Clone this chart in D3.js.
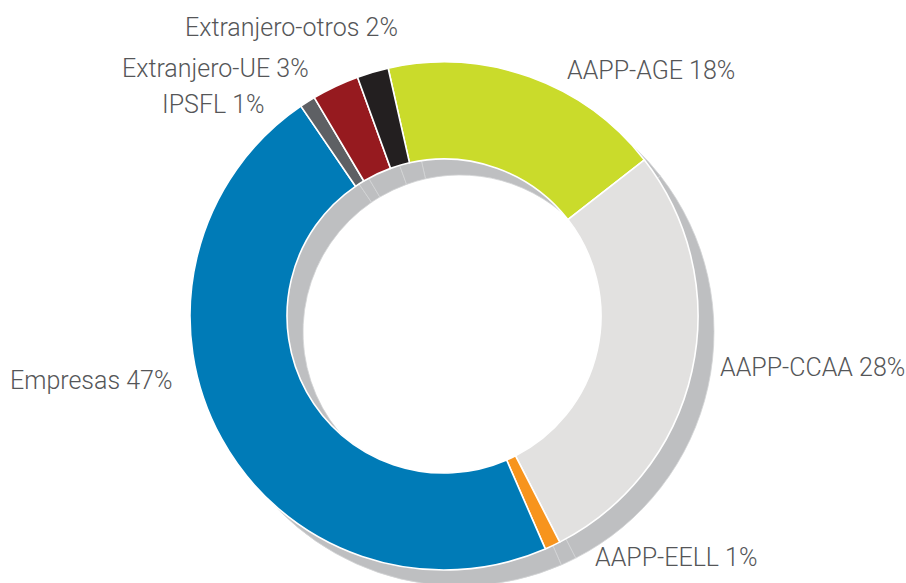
<!DOCTYPE html>
<html>
<head>
<meta charset="utf-8">
<script src="https://cdn.jsdelivr.net/npm/d3@7"></script>
<style>
  html, body { margin: 0; padding: 0; background: #ffffff; }
  svg { display: block; }
  .lbl { font-family: Roboto, "Open Sans", sans-serif; font-weight: 300; fill: #555658; }
</style>
</head>
<body>
<svg id="chart" width="906" height="583"></svg>
<script>
// Financing sources (share of total, %)
const sectors = ["AAPP-AGE", "AAPP-CCAA", "AAPP-EELL", "Empresas", "IPSFL", "Extranjero-UE", "Extranjero-otros"];
const shares  = [18, 28, 1, 47, 1, 3, 2];
const colors  = ["#cadb2b", "#e2e1e0", "#f7941d", "#007bb7", "#5e6064", "#961a1f", "#231f20"];

const width = 906, height = 583;
const cx = 444, cy = 316;
const outerR = 254, innerR = 157;
const shadowDx = 16, shadowDy = 16;

const svg = d3.select("#chart");

const data = sectors.map((s, i) => ({ name: s, value: shares[i], color: colors[i] }));

const startDeg = -12.7;
const pie = d3.pie()
  .value(d => d.value)
  .sort(null)
  .startAngle(startDeg * Math.PI / 180)
  .endAngle((startDeg + 360) * Math.PI / 180);

const arc = d3.arc().innerRadius(innerR).outerRadius(outerR);
const arcs = pie(data);

// drop shadow ring, offset down-right
svg.append("g")
  .attr("transform", `translate(${cx + shadowDx},${cy + shadowDy})`)
  .selectAll("path")
  .data(arcs)
  .join("path")
  .attr("d", arc)
  .attr("fill", "#bebfc1")
  .attr("stroke", "#d3d4d6")
  .attr("stroke-width", 0.8);

// donut slices
svg.append("g")
  .attr("transform", `translate(${cx},${cy})`)
  .selectAll("path")
  .data(arcs)
  .join("path")
  .attr("d", arc)
  .attr("fill", d => d.data.color)
  .attr("stroke", "#ffffff")
  .attr("stroke-width", 1.6)
  .attr("stroke-linejoin", "round");

// slice labels
const labelPos = {
  "AAPP-AGE":         { x: 567, y: 79,  anchor: "start" },
  "AAPP-CCAA":        { x: 720, y: 376, anchor: "start" },
  "AAPP-EELL":        { x: 595, y: 566, anchor: "start" },
  "Empresas":         { x: 10,  y: 389, anchor: "start" },
  "IPSFL":            { x: 162, y: 113, anchor: "start" },
  "Extranjero-UE":    { x: 122, y: 77,  anchor: "start" },
  "Extranjero-otros": { x: 185, y: 36,  anchor: "start" }
};

svg.append("g")
  .selectAll("text")
  .data(data)
  .join("text")
  .attr("class", "lbl")
  .attr("x", d => labelPos[d.name].x)
  .attr("y", d => labelPos[d.name].y)
  .attr("text-anchor", d => labelPos[d.name].anchor)
  .attr("font-size", 25)
  .text(d => `${d.name} ${d.value}%`);
</script>
</body>
</html>
